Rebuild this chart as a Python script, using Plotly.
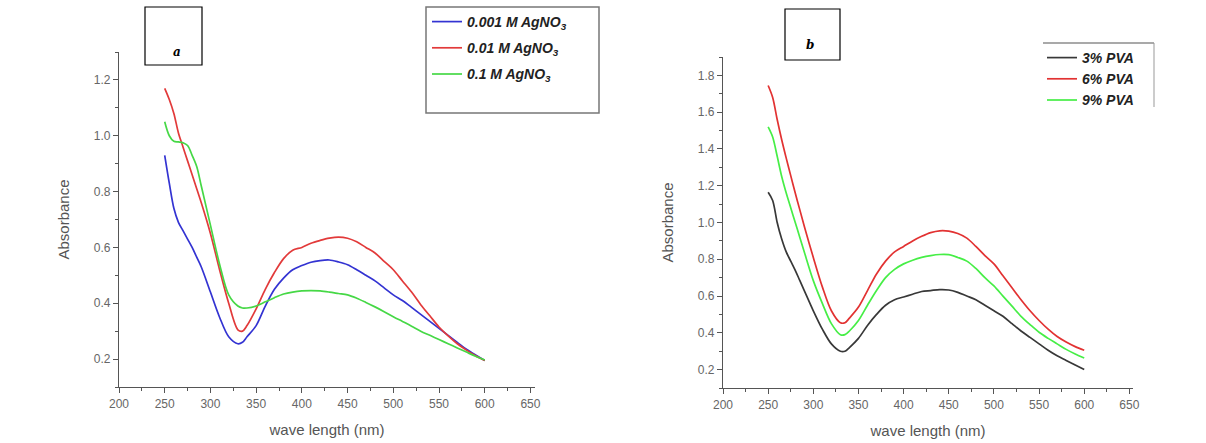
import plotly.graph_objects as go

# ---------------- data ----------------
wavelength = [250, 255, 260, 265, 270, 275, 280, 285, 290, 300, 310, 320, 330, 335,
              340, 350, 360, 370, 380, 390, 400, 410, 420, 430, 440, 450, 460, 470,
              480, 490, 500, 510, 520, 530, 540, 550, 560, 570, 580, 590, 600]

# panel a : AgNO3 concentration
agno3_0001 = [0.93, 0.83, 0.74, 0.69, 0.66, 0.63, 0.60, 0.565, 0.53, 0.44, 0.35, 0.28, 0.255, 0.26,
              0.28, 0.32, 0.39, 0.45, 0.49, 0.52, 0.535, 0.547, 0.553, 0.555, 0.548, 0.538, 0.52, 0.50,
              0.48, 0.455, 0.43, 0.41, 0.385, 0.36, 0.335, 0.31, 0.285, 0.26, 0.235, 0.215, 0.195]
agno3_001 = [1.17, 1.13, 1.08, 1.01, 0.96, 0.91, 0.86, 0.81, 0.76, 0.65, 0.52, 0.40, 0.305, 0.30,
             0.32, 0.38, 0.45, 0.51, 0.56, 0.59, 0.60, 0.615, 0.625, 0.633, 0.637, 0.633, 0.62, 0.60,
             0.58, 0.55, 0.52, 0.48, 0.44, 0.395, 0.355, 0.315, 0.283, 0.255, 0.232, 0.212, 0.195]
agno3_01 = [1.05, 1.00, 0.98, 0.978, 0.975, 0.965, 0.93, 0.89, 0.82, 0.68, 0.54, 0.43, 0.39, 0.383,
            0.383, 0.39, 0.405, 0.42, 0.433, 0.44, 0.444, 0.445, 0.444, 0.44, 0.435, 0.43, 0.418, 0.403,
            0.387, 0.37, 0.352, 0.335, 0.318, 0.30, 0.285, 0.27, 0.255, 0.24, 0.225, 0.21, 0.197]

# panel b : PVA concentration
pva_3 = [1.165, 1.12, 1.00, 0.91, 0.84, 0.79, 0.74, 0.685, 0.63, 0.52, 0.42, 0.34, 0.30, 0.30,
         0.32, 0.37, 0.44, 0.50, 0.55, 0.58, 0.595, 0.61, 0.625, 0.63, 0.635, 0.633, 0.62, 0.60,
         0.58, 0.55, 0.52, 0.49, 0.45, 0.41, 0.375, 0.34, 0.305, 0.275, 0.25, 0.225, 0.20]
pva_6 = [1.745, 1.68, 1.56, 1.45, 1.35, 1.255, 1.16, 1.07, 0.98, 0.81, 0.65, 0.52, 0.455, 0.455,
         0.48, 0.54, 0.63, 0.72, 0.79, 0.84, 0.87, 0.90, 0.925, 0.945, 0.955, 0.953, 0.94, 0.915,
         0.87, 0.82, 0.775, 0.71, 0.645, 0.58, 0.52, 0.467, 0.42, 0.38, 0.35, 0.325, 0.305]
pva_9 = [1.52, 1.465, 1.36, 1.25, 1.16, 1.08, 1.00, 0.92, 0.84, 0.684, 0.56, 0.45, 0.39, 0.39,
         0.41, 0.467, 0.55, 0.63, 0.70, 0.745, 0.775, 0.795, 0.81, 0.82, 0.826, 0.825, 0.81, 0.79,
         0.75, 0.70, 0.655, 0.60, 0.545, 0.49, 0.445, 0.403, 0.37, 0.34, 0.31, 0.285, 0.263]

names_a = ["<b><i>0.001 M AgNO<sub>3</sub></i></b>", "<b><i>0.01 M AgNO<sub>3</sub></i></b>",
           "<b><i>0.1 M AgNO<sub>3</sub></i></b>"]
names_b = ["<b><i>3% PVA</i></b>", "<b><i>6% PVA</i></b>", "<b><i>9% PVA</i></b>"]
panel_labels = ["a", "b"]
x_title = "wave length (nm)"
y_title = "Absorbance"

# ---------------- figure ----------------
W, H = 1206, 443
def px(x):
    return x / W
def py(y):
    return 1 - y / H

fig = go.Figure()

cols_a = ["#3333d2", "#e23a3a", "#46d846"]
cols_b = ["#383838", "#e23232", "#46ee46"]

for i, (ys, c) in enumerate(zip([agno3_0001, agno3_001, agno3_01], cols_a)):
    fig.add_trace(go.Scatter(x=wavelength, y=ys, mode="lines", name=names_a[i],
                             line=dict(color=c, width=1.7, shape="spline", smoothing=0.9),
                             xaxis="x", yaxis="y", legend="legend",
                             legendgroup=f"a{i}"))
for i, (ys, c) in enumerate(zip([pva_3, pva_6, pva_9], cols_b)):
    fig.add_trace(go.Scatter(x=wavelength, y=ys, mode="lines", name=names_b[i],
                             line=dict(color=c, width=1.7, shape="spline", smoothing=0.9),
                             xaxis="x2", yaxis="y2", legend="legend2",
                             legendgroup=f"b{i}"))

FONT = "Liberation Sans, Arial, sans-serif"
tickfont = dict(family=FONT, size=12, color="#666")
titlefont = dict(family=FONT, size=15, color="#555")
axcommon = dict(showgrid=False, zeroline=False, showline=True, linecolor="#555", linewidth=1.2,
                ticks="outside", ticklen=5, tickcolor="#555", tickfont=tickfont,
                mirror=False, automargin=False)

fig.update_layout(
    width=W, height=H, margin=dict(l=0, r=0, t=0, b=0, autoexpand=False),
    paper_bgcolor="white", plot_bgcolor="white",
    showlegend=True,
    xaxis=dict(domain=[px(119), px(535)], range=[200, 655], dtick=50, tick0=200,
               anchor="y", title=dict(text=x_title, font=titlefont, standoff=14),
               minor=dict(dtick=25, ticklen=3, ticks="outside", tickcolor="#555"), **axcommon),
    yaxis=dict(domain=[py(387), py(52)], range=[0.1, 1.3], dtick=0.2, tick0=0.2,
               tickformat=".1f", anchor="x",
               title=dict(text=y_title, font=titlefont, standoff=20),
               minor=dict(dtick=0.1, ticklen=3, ticks="outside", tickcolor="#555"), **axcommon),
    xaxis2=dict(domain=[px(723), px(1133)], range=[200, 654], dtick=50, tick0=200,
                anchor="y2", title=dict(text=x_title, font=titlefont, standoff=14),
                minor=dict(dtick=25, ticklen=3, ticks="outside", tickcolor="#555"), **axcommon),
    yaxis2=dict(domain=[py(388), py(57)], range=[0.1, 1.9], dtick=0.2, tick0=0.2,
                tickformat=".1f", anchor="x2",
                title=dict(text=y_title, font=titlefont, standoff=20),
                minor=dict(dtick=0.1, ticklen=3, ticks="outside", tickcolor="#555"), **axcommon),
    legend=dict(x=px(427), y=py(6), xanchor="left", yanchor="top",
                bgcolor="rgba(0,0,0,0)", borderwidth=0, tracegroupgap=5,
                font=dict(family=FONT, size=14, color="#222")),
    legend2=dict(x=px(1042), y=py(42), xanchor="left", yanchor="top",
                 bgcolor="rgba(0,0,0,0)", borderwidth=0, tracegroupgap=0,
                 font=dict(family=FONT, size=14, color="#222")),
)

shapes = [
    # legend frame, panel a
    dict(type="rect", xref="paper", yref="paper", x0=px(426), x1=px(599), y0=py(113), y1=py(7),
         line=dict(color="#777", width=1.5)),
    # legend frame, panel b (top and right edges only)
    dict(type="line", xref="paper", yref="paper", x0=px(1043), x1=px(1154), y0=py(43), y1=py(43),
         line=dict(color="#555", width=1.2)),
    dict(type="line", xref="paper", yref="paper", x0=px(1154), x1=px(1154), y0=py(43), y1=py(107),
         line=dict(color="#999", width=1)),
    # panel label boxes
    dict(type="rect", xref="paper", yref="paper", x0=px(145), x1=px(202), y0=py(65), y1=py(7),
         line=dict(color="#000", width=1.2)),
    dict(type="rect", xref="paper", yref="paper", x0=px(785), x1=px(840), y0=py(60), y1=py(9),
         line=dict(color="#000", width=1.2)),
]
fig.update_layout(shapes=shapes)

fig.add_annotation(x=px(177), y=py(52), xref="paper", yref="paper", showarrow=False,
                   xanchor="center", yanchor="middle",
                   text=f"<b><i>{panel_labels[0]}</i></b>",
                   font=dict(family="DejaVu Serif, serif", size=12, color="#000"))
fig.add_annotation(x=px(810), y=py(45), xref="paper", yref="paper", showarrow=False,
                   xanchor="center", yanchor="middle",
                   text=f"<b><i>{panel_labels[1]}</i></b>",
                   font=dict(family="DejaVu Serif, serif", size=12, color="#000"))

fig.write_html("out.html", config={"displayModeBar": False},
               post_script="document.body.style.margin='0';document.body.style.overflow='hidden';")
